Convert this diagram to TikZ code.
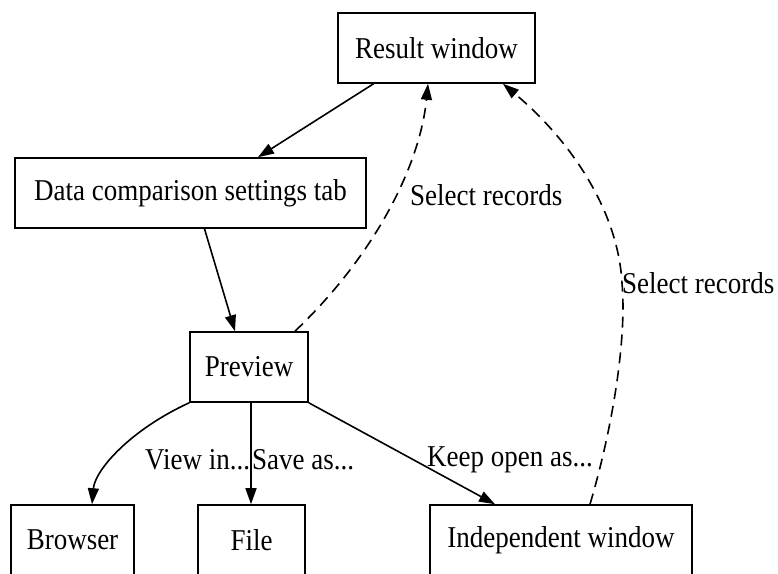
\documentclass[tikz,border=0pt]{standalone}
\usepackage{fontspec}
\usepackage{graphicx}
\setmainfont{Liberation Serif}
\usetikzlibrary{arrows.meta}
\newcommand\sy[1]{\scalebox{1}[1.12]{#1}}
\begin{document}
\begin{tikzpicture}[x=1pt,y=-1pt,
  box/.style={draw,line width=1.6pt,minimum height=70pt,inner sep=0pt,font=\fontsize{27}{32}\selectfont},
  lbl/.style={anchor=west,inner sep=0pt,font=\fontsize{27}{32}\selectfont},
  edge/.style={line width=1.6pt,-{Triangle[length=16pt,width=11pt]}},
  dashedge/.style={edge,dash pattern=on 11pt off 7pt}]
\clip (0,0) rectangle (778,573);
\fill[white] (0,0) rectangle (778,573);
\node[box,minimum width=197pt] (res) at (436.5,48) {\sy{Result window}};
\node[box,minimum width=351pt] (data) at (190.5,193) {\sy{Data comparison settings tab}};
\node[box,minimum width=118pt] (prev) at (249,367) {\sy{Preview}};
\node[box,minimum width=123pt] (brow) at (72.5,540) {\sy{Browser}};
\node[box,minimum width=107pt] (file) at (251.5,540) {\sy{File}};
\node[box,minimum width=262pt] (ind) at (561,540) {\sy{Independent window}};

\draw[edge] ([xshift=-63pt]res.south) -- ([xshift=67.5pt]data.north);
\draw[edge] ([xshift=14pt]data.south) -- ([xshift=-14pt]prev.north);
\draw[dashedge] ([xshift=46pt]prev.north) .. controls (375,255) and (420,165) .. ([xshift=-8.5pt]res.south);
\coordinate (m) at (622,283);
\draw[dashedge] ([xshift=29pt]ind.north) .. controls (612,430) and (627,340) .. (m)
  .. controls (618,210) and (570,140) .. ([xshift=66.5pt]res.south);
\draw[edge] (prev.south west) .. controls (130,430) and (95,470) .. ([xshift=19.5pt]brow.north);
\draw[edge] ([xshift=2pt]prev.south) -- ([xshift=-0.5pt]file.north);
\draw[edge] (prev.south east) -- ([xshift=-66pt]ind.north);

\node[lbl] (l1) at (410,195) {\sy{Select records}};
\node[lbl] (l2) at (622,283) {\sy{Select records}};
\node[lbl] (l3) at (145,460) {\sy{View in...}};
\node[lbl] (l4) at (252,460) {\sy{Save as...}};
\node[lbl] (l5) at (427,460) {\sy{Keep open as...}};
\end{tikzpicture}
\end{document}
